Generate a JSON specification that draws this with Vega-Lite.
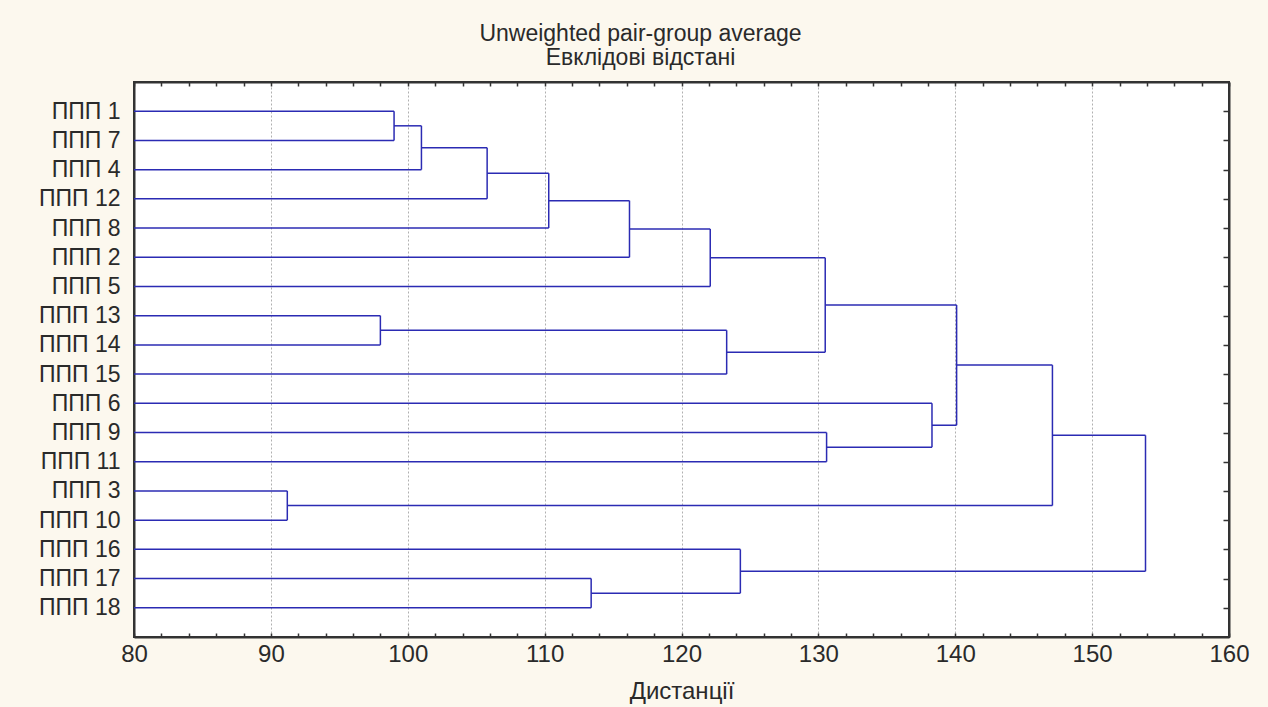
{
  "$schema": "https://vega.github.io/schema/vega-lite/v6.json",
  "autosize": {"type": "none"},
  "width": 1095,
  "height": 555,
  "padding": {"left": 134, "top": 82, "right": 39, "bottom": 70},
  "background": "#fcf8ee",
  "title": {
    "text": ["Unweighted pair-group average", "Евклідові відстані"],
    "font": "Liberation Sans",
    "fontSize": 23,
    "fontWeight": "normal",
    "color": "#2a2a2a",
    "anchor": "middle",
    "dx": -41,
    "offset": 11,
    "lineHeight": 24
  },
  "config": {
    "view": {"fill": "white", "stroke": "#333333", "strokeWidth": 2},
    "axis": {
      "labelFont": "Liberation Sans",
      "titleFont": "Liberation Sans",
      "labelColor": "#2a2a2a",
      "titleColor": "#2a2a2a",
      "domainColor": "#333333",
      "domainWidth": 2,
      "tickColor": "#333333",
      "tickWidth": 1.5
    }
  },
  "data": {
    "values": [
      {"node": "N1", "h": 99.0, "y1": 1, "h1": 80, "y2": 2, "h2": 80},
      {"node": "N2", "h": 101.0, "y1": 1.5, "h1": 99.0, "y2": 3, "h2": 80},
      {"node": "N3", "h": 105.8, "y1": 2.25, "h1": 101.0, "y2": 4, "h2": 80},
      {"node": "N4", "h": 110.3, "y1": 3.125, "h1": 105.8, "y2": 5, "h2": 80},
      {"node": "N5", "h": 116.2, "y1": 4.0625, "h1": 110.3, "y2": 6, "h2": 80},
      {"node": "N6", "h": 122.1, "y1": 5.03125, "h1": 116.2, "y2": 7, "h2": 80},
      {"node": "N7", "h": 98.0, "y1": 8, "h1": 80, "y2": 9, "h2": 80},
      {"node": "N8", "h": 123.3, "y1": 8.5, "h1": 98.0, "y2": 10, "h2": 80},
      {"node": "N9", "h": 130.5, "y1": 6.015625, "h1": 122.1, "y2": 9.25, "h2": 123.3},
      {"node": "N10", "h": 130.6, "y1": 12, "h1": 80, "y2": 13, "h2": 80},
      {"node": "N11", "h": 138.3, "y1": 11, "h1": 80, "y2": 12.5, "h2": 130.6},
      {"node": "N12", "h": 140.1, "y1": 7.6328, "h1": 130.5, "y2": 11.75, "h2": 138.3},
      {"node": "N13", "h": 91.2, "y1": 14, "h1": 80, "y2": 15, "h2": 80},
      {"node": "N14", "h": 147.1, "y1": 9.6914, "h1": 140.1, "y2": 14.5, "h2": 91.2},
      {"node": "N15", "h": 113.4, "y1": 17, "h1": 80, "y2": 18, "h2": 80},
      {"node": "N16", "h": 124.3, "y1": 16, "h1": 80, "y2": 17.5, "h2": 113.4},
      {"node": "N17", "h": 153.9, "y1": 12.0957, "h1": 147.1, "y2": 16.75, "h2": 124.3}
    ]
  },
  "layer": [
    {
      "mark": {"type": "rule", "color": "#2b2bb3", "strokeWidth": 1.5},
      "encoding": {
        "x": {
          "field": "h1", "type": "quantitative",
          "scale": {"domain": [80, 160], "nice": false, "zero": false},
          "axis": {
            "orient": "bottom",
            "title": "Дистанції",
            "titleFontSize": 24,
            "titleFontWeight": "normal",
            "titlePadding": 13,
            "values": [80,82,84,86,88,90,92,94,96,98,100,102,104,106,108,110,112,114,116,118,120,122,124,126,128,130,132,134,136,138,140,142,144,146,148,150,152,154,156,158,160],
            "labelExpr": "datum.value % 10 === 0 ? datum.label : ''",
            "labelFontSize": 24,
            "labelPadding": 9,
            "labelFlush": false,
            "labelOverlap": false,
            "tickSize": -4,
            "grid": true,
            "gridColor": "#b0b0b0",
            "gridDash": [2, 2],
            "gridWidth": 1,
            "gridOpacity": {"condition": {"test": "datum.value % 10 === 0 && datum.value > 80 && datum.value < 160", "value": 1}, "value": 0}
          }
        },
        "x2": {"field": "h"},
        "y": {
          "field": "y1", "type": "quantitative",
          "scale": {"domain": [0, 19], "reverse": true, "nice": false, "zero": false},
          "axis": {
            "orient": "left",
            "title": null,
            "values": [1,2,3,4,5,6,7,8,9,10,11,12,13,14,15,16,17,18],
            "labelExpr": "['ППП 1','ППП 7','ППП 4','ППП 12','ППП 8','ППП 2','ППП 5','ППП 13','ППП 14','ППП 15','ППП 6','ППП 9','ППП 11','ППП 3','ППП 10','ППП 16','ППП 17','ППП 18'][datum.value - 1]",
            "labelFontSize": 23,
            "labelPadding": 14,
            "ticks": false,
            "grid": false,
            "labelOverlap": false
          }
        }
      }
    },
    {
      "mark": {"type": "rule", "color": "#2b2bb3", "strokeWidth": 1.5},
      "encoding": {
        "x": {
          "field": "h2", "type": "quantitative",
          "axis": {
            "orient": "top",
            "title": null,
            "labels": false,
            "values": [80,82,84,86,88,90,92,94,96,98,100,102,104,106,108,110,112,114,116,118,120,122,124,126,128,130,132,134,136,138,140,142,144,146,148,150,152,154,156,158,160],
            "tickSize": -4,
            "grid": false
          }
        },
        "x2": {"field": "h"},
        "y": {
          "field": "y2", "type": "quantitative",
          "axis": {
            "orient": "right",
            "title": null,
            "labels": false,
            "values": [1,2,3,4,5,6,7,8,9,10,11,12,13,14,15,16,17,18],
            "tickSize": -6,
            "grid": false
          }
        }
      }
    },
    {
      "mark": {"type": "rule", "color": "#2b2bb3", "strokeWidth": 1.5},
      "encoding": {
        "x": {"field": "h", "type": "quantitative", "axis": null},
        "y": {"field": "y1", "type": "quantitative", "axis": null},
        "y2": {"field": "y2"}
      }
    }
  ],
  "resolve": {"axis": {"x": "independent", "y": "independent"}}
}
